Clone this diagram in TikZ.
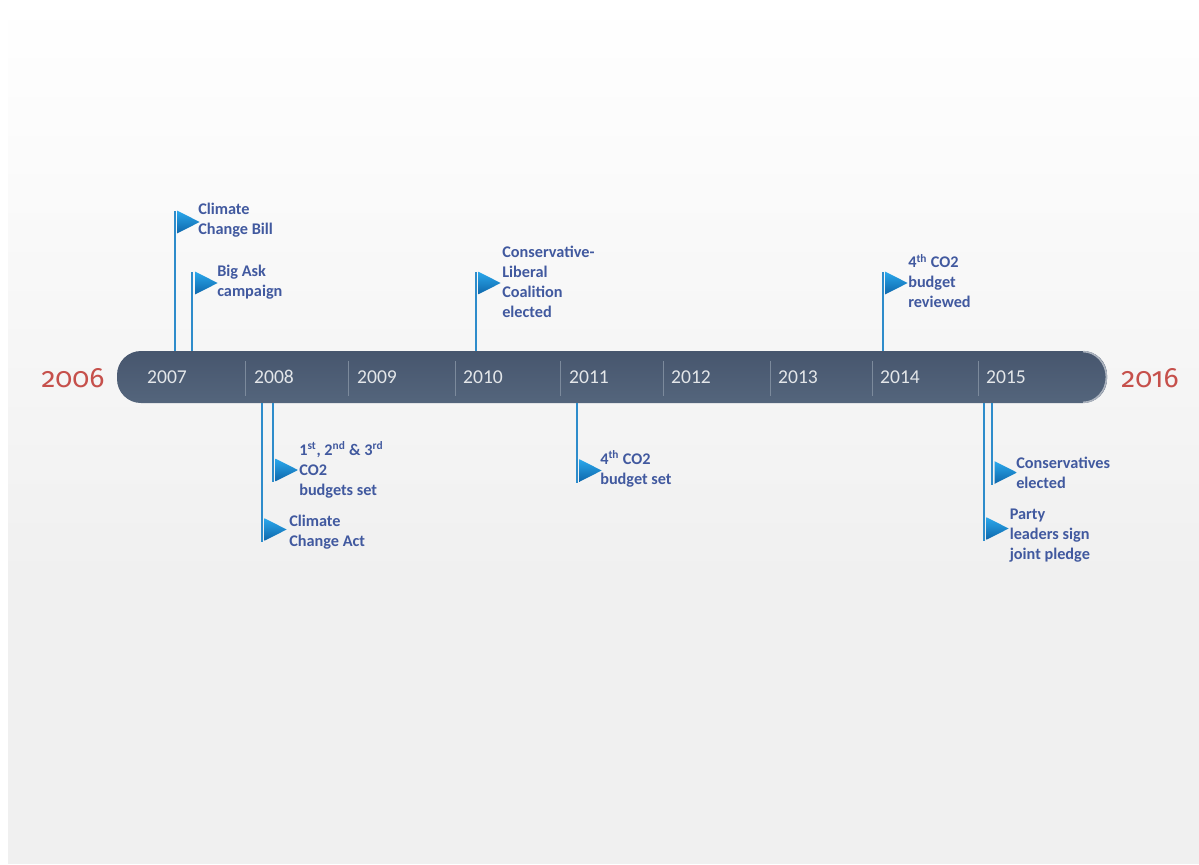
\documentclass[tikz,border=0pt]{standalone}
\usepackage{fontspec}
\setmainfont{Carlito}
\newfontfamily\yearfont[Numbers=OldStyle]{Fira Sans}
\usetikzlibrary{shapes.geometric}
\definecolor{barTop}{HTML}{47566E}
\definecolor{barBot}{HTML}{54657C}
\definecolor{tickGray}{HTML}{7C8A9C}
\definecolor{poleBlue}{HTML}{2E8CCB}
\definecolor{flagLight}{HTML}{2BA8EC}
\definecolor{flagDark}{HTML}{0E67AB}
\definecolor{labelBlue}{HTML}{41599F}
\definecolor{endRed}{HTML}{C6504B}
\definecolor{backGray}{HTML}{F0F0F0}
\tikzset{
  yearlabel/.style={anchor=base, text=white!85!barTop, font=\fontsize{14.7pt}{16pt}\selectfont},
  endlabel/.style={anchor=base, text=endRed, font=\fontsize{21pt}{25pt}\yearfont},
  flaglabel/.style={anchor=west, align=left, inner sep=0pt, text=labelBlue, font=\fontsize{12.2pt}{15pt}\selectfont\bfseries},
  flagtri/.style={isosceles triangle, isosceles triangle stretches, minimum width=17pt, minimum height=16.8pt, inner sep=0pt, anchor=lower side, top color=flagLight, bottom color=flagDark},
  pole/.style={poleBlue, line width=1.1pt},
  tick/.style={tickGray, line width=0.6pt},
}
\begin{document}
\begin{tikzpicture}[x=0.75pt,y=-0.75pt]
\useasboundingbox (0,0) rectangle (1199,864);
% background
\shade[top color=white, bottom color=backGray] (8,0) rectangle (1199,580);
\fill[backGray] (8,580) rectangle (1199,864);
% bar
\node[minimum width=742.5pt, minimum height=39pt, inner sep=0pt, rounded corners=18pt, top color=barTop, bottom color=barBot] (bar) at (612,377) {};
\draw[barTop!45!white, line width=1.2pt] (1083,351.6) arc (-90:90:23.4 and 25.4);
\foreach \tx in {245,348,455,560,663,770,872,978}
  \draw[tick] (\tx,361) -- (\tx,396);
\foreach \yr/\yx in {2007/167,2008/274,2009/377,2010/483,2011/589,2012/691,2013/798,2014/900,2015/1006}
  \node[yearlabel] (y\yr) at (\yx,383) {\yr};
\node[endlabel] (start) at (73,387) {2006};
\node[endlabel] (end) at (1150,387) {2016};
% flags above the bar
\foreach \nm/\px/\fx/\py/\tx/\ty/\txt in {
  billA/175/177/222/198/220.5/{Climate\\Change Bill},
  askA/192/195/283/217/282/{Big Ask\\campaign},
  coalA/476/478/283/502/282/{Conservative-\\Liberal\\Coalition\\elected},
  revA/883/885/283/908/281/{4\textsuperscript{th} CO2\\budget\\reviewed}}{
  \node[flagtri] (\nm) at (\fx,\py) {};
  \draw[pole] (bar.north -| \px,0) -- (\px,\py-11);
  \node[flaglabel] (\nm t) at (\tx,\ty) {\txt};
}
% flags below the bar
\foreach \nm/\px/\fx/\py/\tx/\ty/\txt in {
  actB/262/264/529.5/289/532/{Climate\\Change Act},
  setB/273/275.3/470/299/470/{1\textsuperscript{st}, 2\textsuperscript{nd} \& 3\textsuperscript{rd}\\CO2\\budgets set},
  fourB/577/579/470.5/600/469/{4\textsuperscript{th} CO2\\budget set},
  consB/992/994.3/472.5/1016/473/{Conservatives\\elected},
  partyB/984/986/528.5/1009.5/536/{Party\\leaders sign\\joint pledge}}{
  \node[flagtri] (\nm) at (\fx,\py) {};
  \draw[pole] (bar.south -| \px,0) -- (\px,\py+12);
  \node[flaglabel] (\nm t) at (\tx,\ty) {\txt};
}
\end{tikzpicture}
\end{document}
